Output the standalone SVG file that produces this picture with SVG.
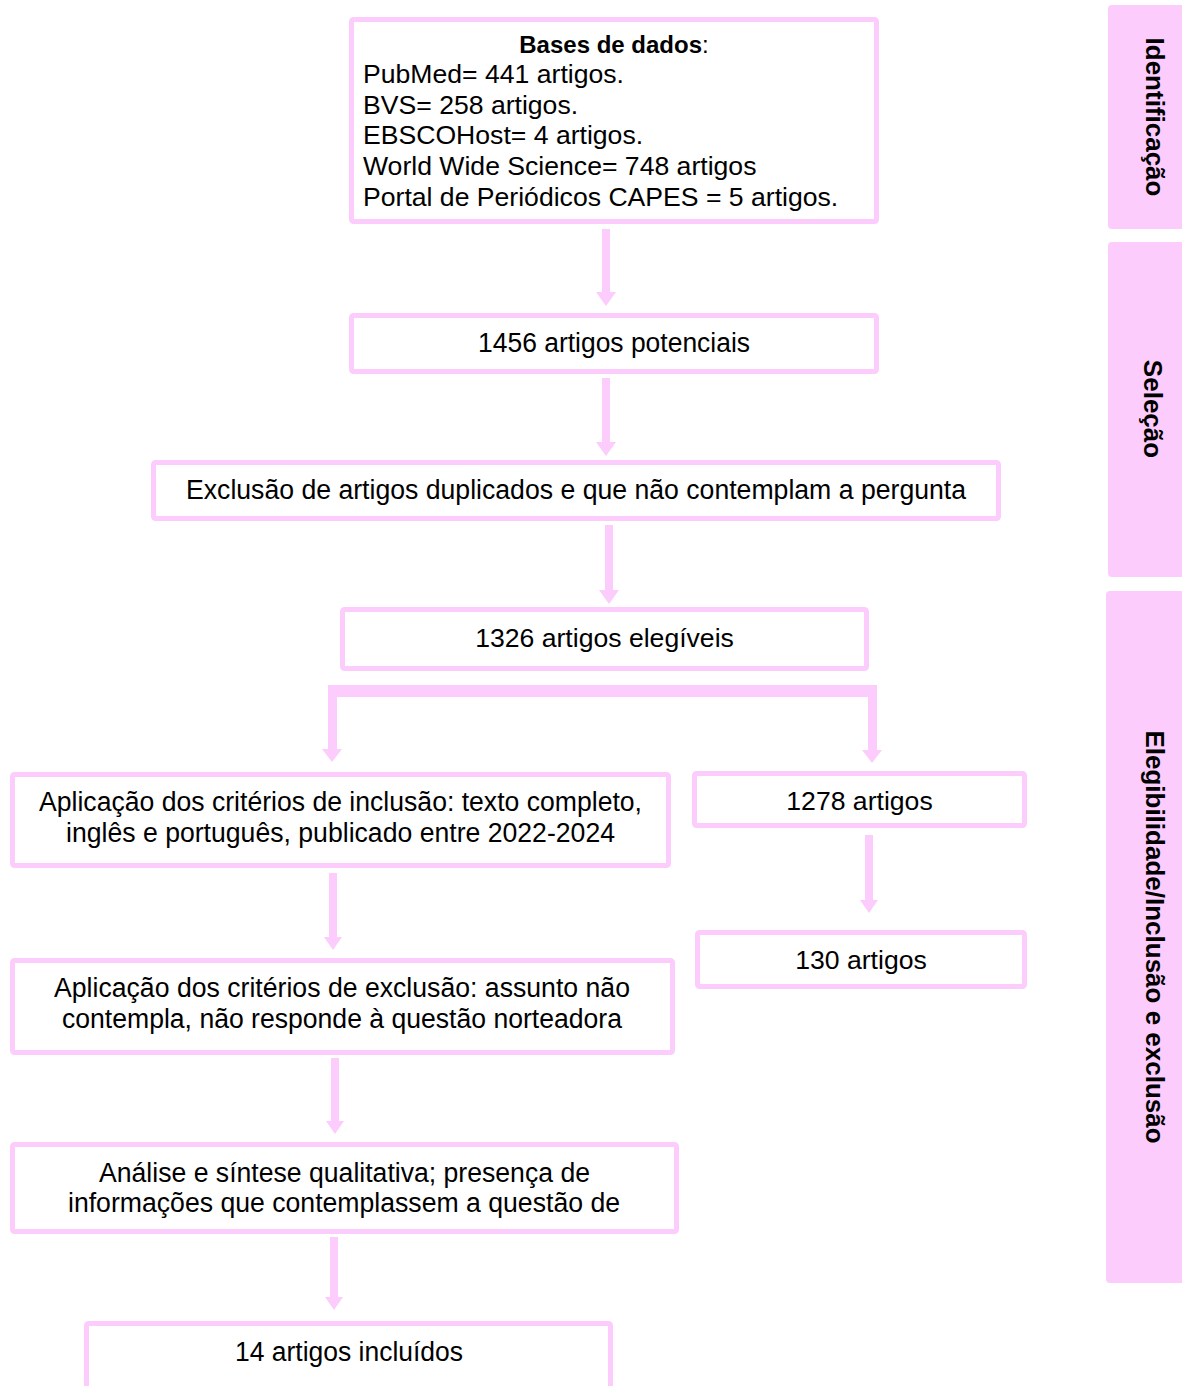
<svg xmlns="http://www.w3.org/2000/svg" width="1182" height="1386" viewBox="0 0 1182 1386">
<style>
.box{fill:#ffffff;stroke:#FCCCFC;stroke-width:5}
.panel{fill:#FCCCFC}
.arr{fill:#FCCCFC}
.t{font-family:"Liberation Sans",Arial,sans-serif;font-size:26.6px;fill:#000}
.c{font-family:"Liberation Sans",Arial,sans-serif;font-size:27px;fill:#000}
.pt{font-family:"Liberation Sans",Arial,sans-serif;font-size:26px;font-weight:bold;fill:#000}
.h{font-family:"Liberation Sans",Arial,sans-serif;font-size:24px;fill:#000}
</style>
<rect width="1182" height="1386" fill="#ffffff"/>
<g id="connectors">
<polygon class="arr" points="602,229 610,229 610,292 616,292 606,306 596,292 602,292"/>
<polygon class="arr" points="602,378 610,378 610,442 616,442 606,456 596,442 602,442"/>
<polygon class="arr" points="605,525 613,525 613,590 619,590 609,604 599,590 605,590"/>
<polygon class="arr" points="328,685 877,685 877,750 882,750 872,763 862,750 868,750 868,697 337,697 337,749 342,749 332,762 322,749 328,749"/>
<polygon class="arr" points="329,873 337,873 337,937 342,937 333,950 324,937 329,937"/>
<polygon class="arr" points="865,835 873,835 873,900 878,900 869,913 860,900 865,900"/>
<polygon class="arr" points="331,1058 339,1058 339,1121 344,1121 335,1134 326,1121 331,1121"/>
<polygon class="arr" points="330,1237 338,1237 338,1297 343,1297 334,1310 325,1297 330,1297"/>
</g>
<g id="node-bases">
<rect class="box" x="351.5" y="19.5" width="525" height="202" rx="2"/>
<text class="h" x="614" y="53" text-anchor="middle"><tspan font-weight="bold">Bases de dados</tspan>:</text>
<text class="t" x="363" y="83">PubMed= 441 artigos.</text>
<text class="t" x="363" y="114">BVS= 258 artigos.</text>
<text class="t" x="363" y="144">EBSCOHost= 4 artigos.</text>
<text class="t" x="363" y="175">World Wide Science= 748 artigos</text>
<text class="t" x="363" y="206">Portal de Periódicos CAPES = 5 artigos.</text>
</g>
<g id="node-potenciais">
<rect class="box" x="351.5" y="315.5" width="525" height="56" rx="2"/>
<text class="c" x="478" y="352" textLength="272" lengthAdjust="spacingAndGlyphs">1456 artigos potenciais</text>
</g>
<g id="node-exclusao-dup">
<rect class="box" x="153.5" y="462.5" width="845" height="56" rx="2"/>
<text class="c" x="186" y="499" textLength="780" lengthAdjust="spacingAndGlyphs">Exclusão de artigos duplicados e que não contemplam a pergunta</text>
</g>
<g id="node-elegiveis">
<rect class="box" x="342.5" y="609.5" width="524" height="59" rx="2"/>
<text class="t" x="604.5" y="647" text-anchor="middle">1326 artigos elegíveis</text>
</g>
<g id="node-inclusao">
<rect class="box" x="12.5" y="774.5" width="656" height="91" rx="2"/>
<text class="c" x="39" y="811" textLength="603" lengthAdjust="spacingAndGlyphs">Aplicação dos critérios de inclusão: texto completo,</text>
<text class="c" x="66" y="842" textLength="549" lengthAdjust="spacingAndGlyphs">inglês e português, publicado entre 2022-2024</text>
</g>
<g id="node-1278">
<rect class="box" x="694.5" y="773.5" width="330" height="52" rx="2"/>
<text class="t" x="859.5" y="810" text-anchor="middle">1278 artigos</text>
</g>
<g id="node-exclusao-crit">
<rect class="box" x="12.5" y="960.5" width="660" height="92" rx="2"/>
<text class="c" x="54" y="997" textLength="576" lengthAdjust="spacingAndGlyphs">Aplicação dos critérios de exclusão: assunto não</text>
<text class="c" x="62" y="1028" textLength="560" lengthAdjust="spacingAndGlyphs">contempla, não responde à questão norteadora</text>
</g>
<g id="node-130">
<rect class="box" x="697.5" y="932.5" width="327" height="54" rx="2"/>
<text class="t" x="861" y="969" text-anchor="middle">130 artigos</text>
</g>
<g id="node-analise">
<rect class="box" x="12.5" y="1144.5" width="664" height="87" rx="2"/>
<text class="c" x="99" y="1182" textLength="491" lengthAdjust="spacingAndGlyphs">Análise e síntese qualitativa; presença de</text>
<text class="c" x="68" y="1212" textLength="552" lengthAdjust="spacingAndGlyphs">informações que contemplassem a questão de</text>
</g>
<g id="node-incluidos">
<rect class="box" x="86.5" y="1323.5" width="524" height="90" rx="2"/>
<text class="c" x="235" y="1361" textLength="228" lengthAdjust="spacingAndGlyphs">14 artigos incluídos</text>
</g>
<g id="panel-identificacao">
<rect class="panel" x="1108" y="5" width="76" height="224" rx="4"/>
<text class="pt" transform="translate(1146,117) rotate(90)" text-anchor="middle">Identificação</text>
</g>
<g id="panel-selecao">
<rect class="panel" x="1108" y="242" width="76" height="335" rx="4"/>
<text class="pt" transform="translate(1144,409) rotate(90)" text-anchor="middle">Seleção</text>
</g>
<g id="panel-elegibilidade">
<rect class="panel" x="1106" y="591" width="78" height="692" rx="4"/>
<text class="pt" transform="translate(1146,937) rotate(90)" text-anchor="middle">Elegibilidade/Inclusão e exclusão</text>
</g>
</svg>
